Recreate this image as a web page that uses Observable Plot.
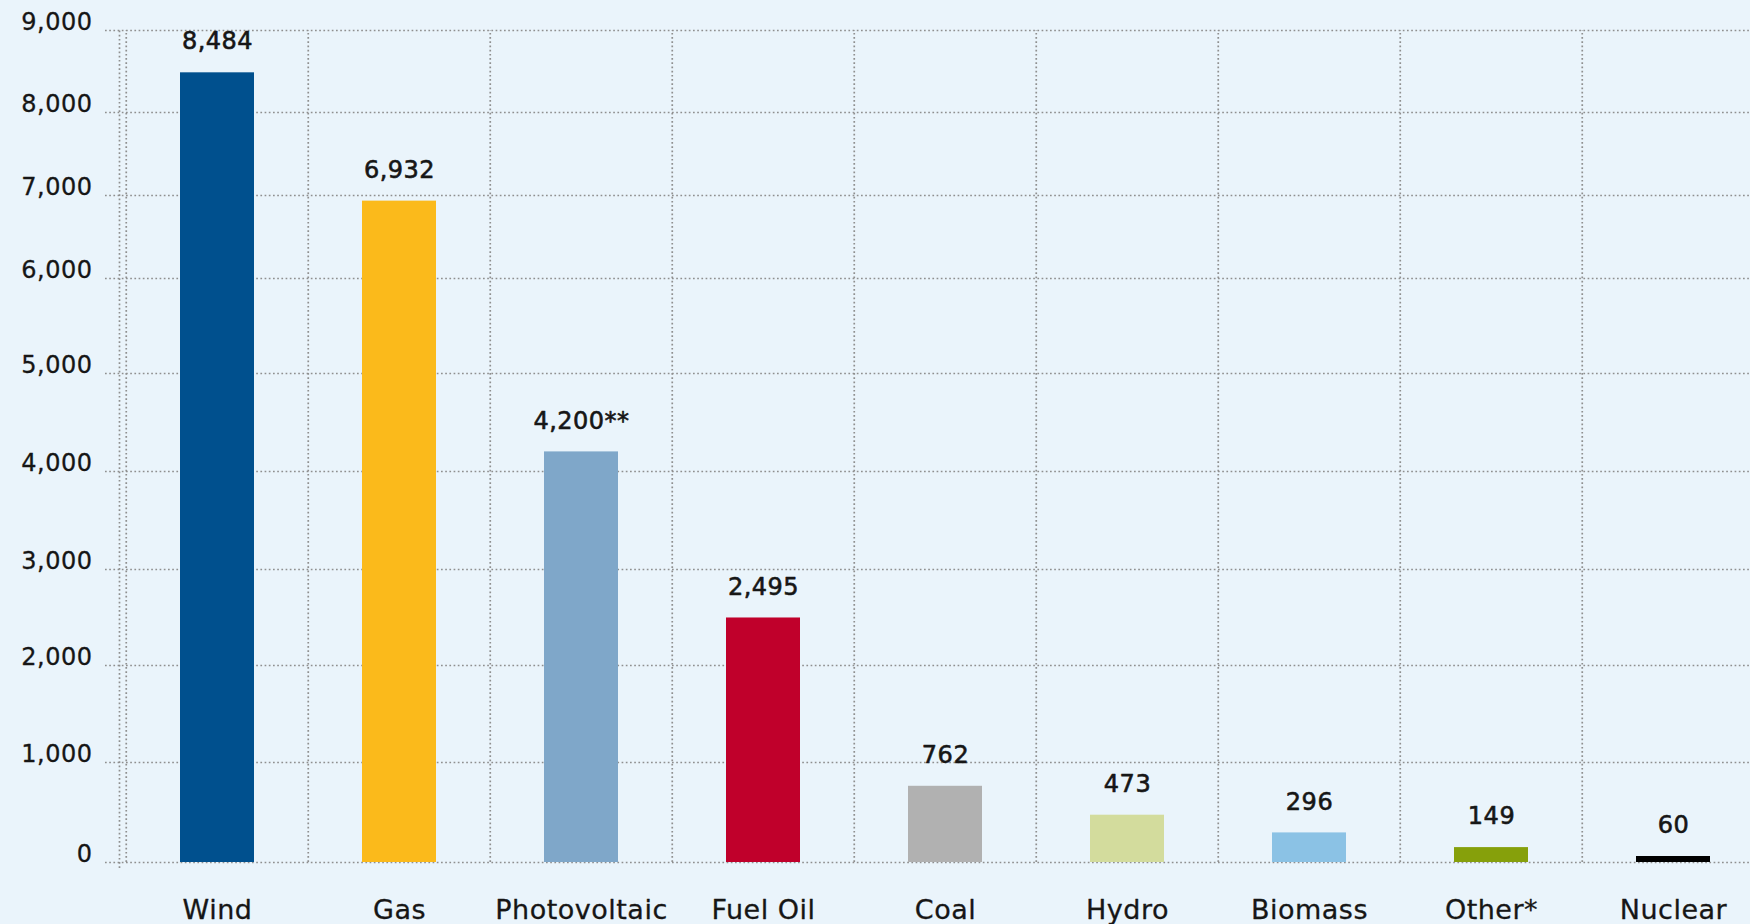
<!DOCTYPE html>
<html>
<head>
<meta charset="utf-8">
<script src="https://cdn.jsdelivr.net/npm/d3@7"></script>
<script src="https://cdn.jsdelivr.net/npm/@observablehq/plot@0.6"></script>
<style>
html, body { margin: 0; padding: 0; background: #EAF4FB; }
#chart svg { display: block; }
</style>
</head>
<body>
<div id="chart"></div>
<script>
const categories = ["Wind", "Gas", "Photovoltaic", "Fuel Oil", "Coal", "Hydro", "Biomass", "Other*", "Nuclear"];
const values = [8484, 6932, 4200, 2495, 762, 473, 296, 149, 60];
const valueLabels = ["8,484", "6,932", "4,200**", "2,495", "762", "473", "296", "149", "60"];
const barColors = ["#00508E", "#FBBA1B", "#7FA7C9", "#C0002B", "#B1B1B1", "#D3DC9D", "#8BC2E5", "#86A00B", "#000000"];
const yTicks = [0, 1000, 2000, 3000, 4000, 5000, 6000, 7000, 8000, 9000];
const yTickLabels = ["0", "1,000", "2,000", "3,000", "4,000", "5,000", "6,000", "7,000", "8,000", "9,000"];

const bars = categories.map((c, i) => ({category: c, value: values[i], label: valueLabels[i], color: barColors[i]}));
const ticks = yTicks.map((v, i) => ({value: v, label: yTickLabels[i]}));

const gridStyle = {stroke: "#8f8f8f", strokeWidth: 1.7, strokeDasharray: "1.7 2.5", strokeOpacity: 1};
const textStyle = {fill: "#161616", stroke: "#161616", strokeWidth: 0.6};

const chart = Plot.plot({
  width: 1750,
  height: 924,
  marginLeft: 105,
  marginRight: 0,
  marginTop: 0,
  marginBottom: 0,
  style: {background: "#EAF4FB", fontFamily: "'DejaVu Sans', sans-serif", color: "#1a1a1a", letterSpacing: "0.5px"},
  x: {domain: categories, range: [124, 1766], paddingInner: 0.595, paddingOuter: 0.2975, axis: null},
  y: {type: "linear", domain: yTicks, range: [862, 762, 665, 569, 471, 373, 278, 195, 112, 30], axis: null},
  marks: [
    Plot.ruleY(yTicks, {y: d => d, ...gridStyle}),
    Plot.ruleX(categories, {x: d => d, y1: 0, y2: 9000, dx: -91.25, ...gridStyle}),
    Plot.ruleX([categories[0]], {x: d => d, y1: -60, y2: 9000, dx: -98, ...gridStyle}),
    Plot.barY(bars, {x: "category", y: "value", fill: "color"}),
    Plot.text(bars, {x: "category", y: "value", text: "label", dy: -31, fontSize: 24, ...textStyle}),
    Plot.text(ticks, {y: "value", text: "label", frameAnchor: "left", textAnchor: "end", dx: -13, dy: -8, fontSize: 24, ...textStyle, strokeWidth: 0.3}),
    Plot.text(categories, {x: d => d, text: d => d, frameAnchor: "bottom", dy: -6, fontSize: 27, ...textStyle, strokeWidth: 0.3})
  ]
});
document.getElementById("chart").appendChild(chart);
</script>
</body>
</html>
